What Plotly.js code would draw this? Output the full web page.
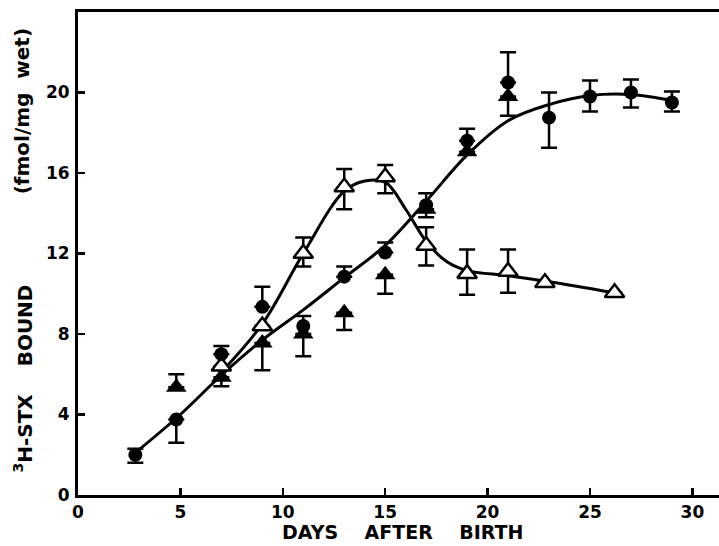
<!DOCTYPE html>
<html>
<head>
<meta charset="utf-8">
<script src="https://cdn.plot.ly/plotly-3.0.1.min.js"></script>
<style>html,body{margin:0;padding:0;background:#fff;}#chart{width:719px;height:546px;}</style>
</head>
<body>
<div id="chart"></div>
<script>
// Filled circles
const circleDays = [2.8, 4.8, 7, 9, 11, 13, 15, 17, 19, 21, 23, 25, 27, 29];
const circleVals = [2.0, 3.75, 7.0, 9.35, 8.4, 10.85, 12.05, 14.4, 17.6, 20.5, 18.75, 19.8, 20.0, 19.5];
const circleErrUp = [0.3, 0, 0.4, 1.0, 0.5, 0.5, 0.5, 0.6, 0.6, 1.5, 1.25, 0.8, 0.65, 0.55];
const circleErrDn = [0.4, 1.15, 0, 0, 1.5, 0, 0, 0.6, 0, 0, 1.5, 0.75, 0.75, 0.45];

// Filled triangles
const triDays = [4.8, 7, 9, 11, 13, 15, 17, 19, 21];
const triVals = [5.35, 5.85, 7.55, 8.0, 9.05, 10.95, 14.2, 17.05, 19.8];
const triErrUp = [0.65, 0, 0, 0, 0, 0, 0, 0, 0];
const triErrDn = [0, 0.45, 1.35, 0, 0.85, 0.95, 0, 0, 0.95];

// Open triangles
const openDays = [7, 9, 11, 13, 15, 17, 19, 21, 22.8, 26.2];
const openVals = [6.4, 8.4, 12.0, 15.3, 15.8, 12.4, 11.0, 11.1, 10.55, 10.05];
const openErrUp = [0, 0, 0.8, 0.9, 0.6, 0.9, 1.2, 1.1, 0, 0];
const openErrDn = [0, 0, 0.65, 1.1, 0.8, 1.0, 1.05, 1.05, 0, 0];

// Fitted curves
const curveADays = [2.8, 5, 7, 9, 11, 13, 15, 17, 19, 21, 23, 25, 27, 29];
const curveAVals = [2.1, 4.0, 5.95, 7.7, 9.2, 10.8, 12.4, 14.6, 16.9, 18.6, 19.4, 19.85, 19.9, 19.6];
const curveBDays = [7, 9, 11, 13, 14, 15, 16, 17, 18, 19, 21, 23, 26.2];
const curveBVals = [6.1, 8.5, 12.0, 15.1, 15.6, 15.55, 14.2, 12.6, 11.6, 11.15, 10.9, 10.6, 10.05];

const xTicks = [0, 5, 10, 15, 20, 25, 30];
const yTicks = [0, 4, 8, 12, 16, 20];

const errStyle = (up, dn) => ({type: 'data', symmetric: false, array: up, arrayminus: dn,
  color: '#000', thickness: 2.5, width: 8});

const traces = [
  {x: curveADays, y: curveAVals, mode: 'lines', line: {color: '#000', width: 3, shape: 'spline', smoothing: 1}, hoverinfo: 'skip'},
  {x: curveBDays, y: curveBVals, mode: 'lines', line: {color: '#000', width: 3, shape: 'spline', smoothing: 1}, hoverinfo: 'skip'},
  {x: triDays, y: triVals, mode: 'markers', marker: {symbol: 'triangle-up', size: 18, color: '#000'},
   error_y: errStyle(triErrUp, triErrDn)},
  {x: openDays, y: openVals, mode: 'markers', marker: {symbol: 'triangle-up', size: 17, color: '#fff', line: {color: '#000', width: 2.5}},
   error_y: errStyle(openErrUp, openErrDn)},
  {x: circleDays, y: circleVals, mode: 'markers', marker: {symbol: 'circle', size: 14, color: '#000'},
   error_y: errStyle(circleErrUp, circleErrDn)}
];

const tickFont = {family: 'DejaVu Sans', size: 17, color: '#000', weight: 700};
const titleFont = {family: 'DejaVu Sans', size: 20, color: '#000', weight: 700};
const xTitleFont = {family: 'DejaVu Sans', size: 19, color: '#000', weight: 700};
const nb = '\u00a0';

const layout = {
  width: 719, height: 546,
  margin: {l: 78, r: 0, t: 12, b: 51},
  paper_bgcolor: '#fff', plot_bgcolor: '#fff',
  showlegend: false,
  xaxis: {range: [0, 31.3], tickvals: xTicks, ticktext: xTicks.map(v => '<b>' + v + '</b>'), ticks: 'inside', ticklen: 7, tickwidth: 2.5,
    tickcolor: '#000', showline: true, linewidth: 3, linecolor: '#000', mirror: true, showgrid: false, zeroline: false,
    tickfont: tickFont, ticklabelstandoff: 0},
  yaxis: {range: [0, 24], tickvals: yTicks, ticktext: yTicks.map(v => '<b>' + v + '</b>'), ticks: 'inside', ticklen: 7, tickwidth: 2.5,
    tickcolor: '#000', showline: true, linewidth: 3, linecolor: '#000', mirror: false, showgrid: false, zeroline: false,
    tickfont: tickFont, ticklabelstandoff: 2},
  annotations: [
    {text: '<b>DAYS' + nb + nb + nb + ' AFTER' + nb + nb + nb + ' BIRTH</b>', xref: 'paper', yref: 'paper', x: 0.507, y: -0.1025,
     xanchor: 'center', yanchor: 'bottom', showarrow: false, font: xTitleFont},
    {text: '<b>(fmol/mg' + nb + ' wet)</b>', xref: 'paper', yref: 'paper', x: -0.086, y: 0.794, textangle: -90,
     xanchor: 'center', yanchor: 'middle', showarrow: false, font: titleFont},
    {text: '<b><sup>3</sup>H-STX' + nb + nb + nb + ' BOUND</b>', xref: 'paper', yref: 'paper', x: -0.086, y: 0.241, textangle: -90,
     xanchor: 'center', yanchor: 'middle', showarrow: false, font: titleFont}
  ]
};

Plotly.newPlot('chart', traces, layout, {displayModeBar: false, staticPlot: true});
</script>
</body>
</html>
